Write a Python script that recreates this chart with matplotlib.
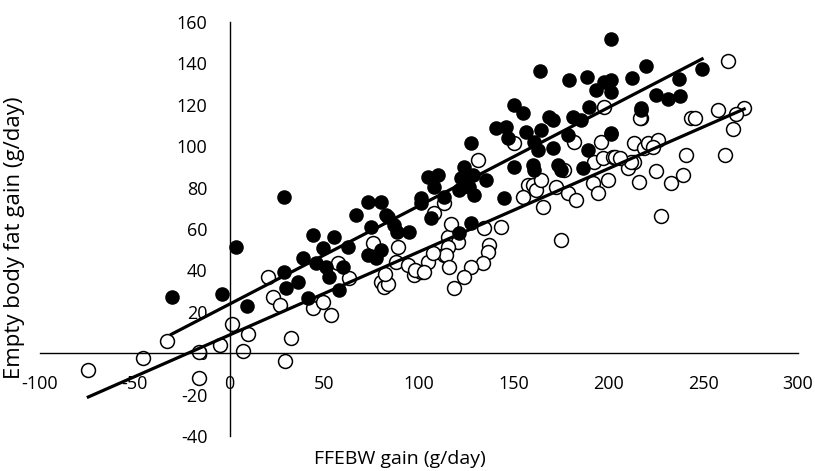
import matplotlib.pyplot as plt
import numpy as np

# Puntos rellenos (serie superior): ganancia FFEBW vs ganancia de grasa
x_rellenos = np.array([
    -30.6, -3.7, 3.2, 9.3, 28.5, 28.5, 29.6, 35.9, 41.2, 38.6,
    43.9, 45.4, 49.1, 50.7, 52.3, 55.0, 57.6, 59.7, 62.4, 66.6,
    72.9, 74.5, 77.1, 79.8, 72.9, 79.8, 82.4, 83.5, 86.7, 88.5,
    94.6, 100.9, 106.2, 100.9, 104.6, 109.9, 107.8, 113.1, 121.0, 127.3,
    121.0, 123.6, 122.0, 128.4, 135.3, 126.3, 128.9, 144.8, 127.3, 140.6,
    145.8, 146.9, 150.1, 154.8, 156.4, 164.3, 168.6, 170.7, 181.2, 185.5,
    189.7, 201.3, 217.2, 160.6, 162.7, 170.7, 178.6, 189.2, 150.1, 160.1,
    160.6, 173.3, 174.9, 186.5, 163.8, 179.1, 188.6, 193.4, 201.3, 219.8,
    212.4, 201.3, 197.6, 201.3, 237.3, 249.4, 225.1, 231.4, 237.8, 217.2,
    201.3,
])
y_rellenos = np.array([
    27.0, 28.5, 51.5, 23.0, 75.4, 39.1, 31.4, 34.3, 26.6, 45.9,
    57.0, 43.5, 50.9, 41.5, 36.7, 56.0, 30.4, 41.5, 51.2, 66.7,
    47.3, 60.9, 45.9, 49.8, 73.0, 73.0, 66.7, 65.7, 61.8, 58.5,
    58.5, 72.5, 65.2, 74.9, 85.0, 86.0, 80.2, 75.4, 78.7, 62.8,
    58.0, 89.9, 84.5, 86.0, 83.6, 80.2, 76.3, 74.9, 101.4, 108.7,
    109.2, 103.9, 119.8, 115.9, 106.8, 107.7, 114.0, 112.5, 114.0, 112.6,
    118.8, 106.3, 117.4, 101.9, 98.1, 99.0, 105.3, 98.1, 89.9, 90.8,
    88.4, 90.8, 88.4, 89.4, 136.2, 131.9, 133.3, 127.0, 151.7, 138.6,
    132.9, 131.9, 131.0, 126.1, 132.4, 137.2, 124.6, 122.7, 124.2, 118.4,
    105.8,
])

# Puntos huecos (serie inferior)
x_huecos = np.array([
    -74.5, -45.4, -32.8, -15.9, -15.9, -4.8, 1.1, 6.9, 9.5, 29.1,
    32.2, 20.1, 23.2, 26.9, 43.9, 49.1, 53.4, 57.1, 62.9, 75.6,
    79.8, 81.4, 83.5, 82.0, 88.8, 87.7, 94.1, 97.2, 100.9, 104.6,
    107.8, 113.1, 115.2, 116.8, 131.0, 150.1, 113.1, 124.7, 157.5, 160.1,
    161.7, 164.3, 154.8, 165.4, 172.3, 178.6, 182.8, 176.5, 181.8, 191.8,
    194.5, 199.7, 192.3, 197.1, 202.4, 196.0, 213.5, 218.8, 210.3, 213.5,
    216.1, 197.6, 217.2, 143.2, 134.2, 174.9, 120.5, 136.9, 136.3, 115.2,
    114.1, 107.3, 133.7, 98.0, 102.5, 115.7, 127.3, 123.6, 118.4, 263.1,
    271.6, 267.4, 257.9, 243.6, 245.7, 265.8, 216.6, 220.9, 226.2, 223.5,
    211.9, 240.9, 261.6, 225.1, 233.0, 239.4, 227.7, 203.5, 206.0,
])
y_huecos = np.array([
    -8.2, -2.4, 5.8, 0.5, -12.1, 3.9, 14.0, 1.0, 9.2, -3.9,
    7.2, 36.7, 27.0, 23.2, 21.7, 24.6, 18.4, 43.5, 36.2, 53.1,
    34.3, 31.9, 33.5, 38.5, 51.2, 44.0, 42.5, 37.7, 39.1, 44.0,
    67.6, 47.3, 56.0, 62.5, 93.2, 101.4, 72.5, 83.6, 81.2, 81.2,
    78.7, 83.6, 75.4, 70.5, 80.2, 77.3, 73.9, 88.4, 101.9, 82.1,
    77.3, 83.6, 92.3, 94.2, 94.7, 101.9, 101.4, 99.0, 89.4, 92.3,
    82.6, 118.8, 113.5, 60.9, 60.4, 54.6, 53.6, 52.2, 48.8, 51.2,
    47.3, 48.3, 43.5, 40.0, 39.1, 41.5, 41.5, 36.7, 31.4, 141.1,
    118.4, 115.5, 117.4, 113.5, 113.5, 108.2, 113.5, 101.4, 102.9, 99.5,
    92.3, 95.7, 95.7, 87.9, 82.1, 86.0, 66.2, 95.0, 94.2,
])

# Rectas de regresión (pendiente, intercepto)
recta_rellenos = (0.475, 23.7)
recta_huecos = (0.402, 8.8)

plt.rcParams['font.family'] = ['Open Sans', 'DejaVu Sans']
plt.rcParams['axes.unicode_minus'] = False

fig = plt.figure(figsize=(8.15, 4.71), dpi=100)
ax = fig.add_axes([40 / 815, 35 / 471, 758 / 815, 414 / 471])

ax.scatter(x_huecos, y_huecos, s=100, facecolors='white', edgecolors='black',
           linewidths=1.1, zorder=2)
ax.scatter(x_rellenos, y_rellenos, s=110, color='black', linewidths=0, zorder=3)

for xs, (m, b) in [(x_rellenos, recta_rellenos), (x_huecos, recta_huecos)]:
    xr = np.array([xs.min(), xs.max()])
    ax.plot(xr, m * xr + b, color='black', linewidth=2.3, zorder=4)

ax.set_xlim(-100, 300)
ax.set_ylim(-40, 160)
ax.set_xticks(np.arange(-100, 301, 50))
ax.set_yticks(np.arange(-40, 161, 20))

ax.spines['left'].set_position(('data', 0))
ax.spines['bottom'].set_position(('data', 0))
ax.spines['top'].set_visible(False)
ax.spines['right'].set_visible(False)
for s in ['left', 'bottom']:
    ax.spines[s].set_linewidth(1.0)
ax.tick_params(length=0, labelsize=13, pad=16)

fig.text(400 / 815, 1 - 459 / 471, 'FFEBW gain (g/day)', ha='center', va='center',
         fontsize=14)
fig.text(15 / 815, 1 - 238 / 471, 'Empty body fat gain (g/day)', ha='center',
         va='center', rotation=90, fontsize=16)

plt.savefig('out.png', dpi=100)
